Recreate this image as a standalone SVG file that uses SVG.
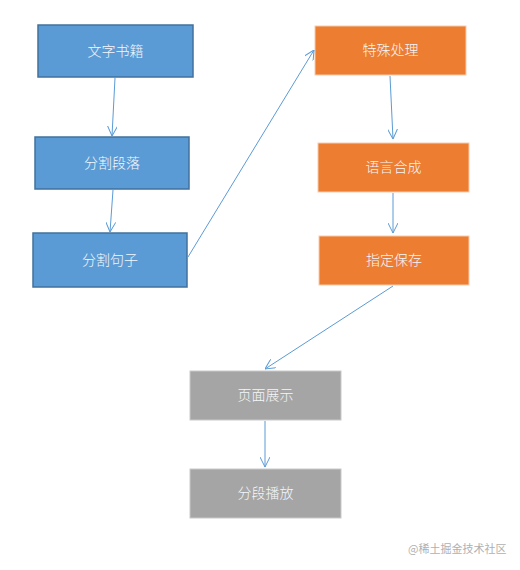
<svg xmlns="http://www.w3.org/2000/svg" width="520" height="570" viewBox="0 0 520 570">
<defs>
<marker id="arr" viewBox="0 0 10 10" refX="10" refY="5" markerWidth="10" markerHeight="10" markerUnits="userSpaceOnUse" orient="auto">
<path d="M0,0 L10,5 L0,10" fill="none" stroke="#5B9BD5" stroke-width="1"/>
</marker>
</defs>
<style>
.blue{fill:#5B9BD5;stroke:#41719C;stroke-width:1.5}
.orange{fill:#ED7D31;stroke:#F8CBAD;stroke-width:1}
.gray{fill:#A5A5A5;stroke:#C9C9C9;stroke-width:1}
.t{font-family:"Liberation Serif","Noto Sans CJK SC",serif;font-size:14px;font-weight:300;fill:#f4f7fb;text-anchor:middle;dominant-baseline:central}
.c{fill:none;stroke:#5B9BD5;stroke-width:1;marker-end:url(#arr)}
.wm{font-family:"Noto Sans CJK SC",sans-serif;font-size:11px;fill:#b0b0b0}
</style>
<rect width="520" height="570" fill="#fff"/>
<g id="n1"><rect class="blue" x="38" y="25" width="155" height="52"/><text class="t" x="115.5" y="51">文字书籍</text></g>
<g id="n2"><rect class="blue" x="35" y="137" width="154" height="52"/><text class="t" x="112" y="163">分割段落</text></g>
<g id="n3"><rect class="blue" x="33" y="233" width="154" height="54"/><text class="t" x="110" y="260">分割句子</text></g>
<g id="n4"><rect class="orange" x="315" y="26" width="151" height="49"/><text class="t" x="390.5" y="50.5">特殊处理</text></g>
<g id="n5"><rect class="orange" x="318" y="143" width="151" height="49"/><text class="t" x="393.5" y="167.5">语言合成</text></g>
<g id="n6"><rect class="orange" x="319" y="236" width="150" height="49"/><text class="t" x="394" y="260.5">指定保存</text></g>
<g id="n7"><rect class="gray" x="190" y="371" width="151" height="49"/><text class="t" x="265.5" y="395.5">页面展示</text></g>
<g id="n8"><rect class="gray" x="190" y="469" width="151" height="49"/><text class="t" x="265.5" y="493.5">分段播放</text></g>
<g id="connectors">
<line class="c" x1="115" y1="78" x2="112" y2="136"/>
<line class="c" x1="113" y1="190" x2="110" y2="232"/>
<line class="c" x1="188" y1="257" x2="314" y2="50"/>
<line class="c" x1="390" y1="76" x2="393" y2="139"/>
<line class="c" x1="393" y1="193" x2="393" y2="233"/>
<line class="c" x1="393" y1="286" x2="265" y2="369"/>
<line class="c" x1="265" y1="421" x2="265" y2="467"/>
</g>
<text class="wm" x="408" y="553">@稀土掘金技术社区</text>
</svg>
